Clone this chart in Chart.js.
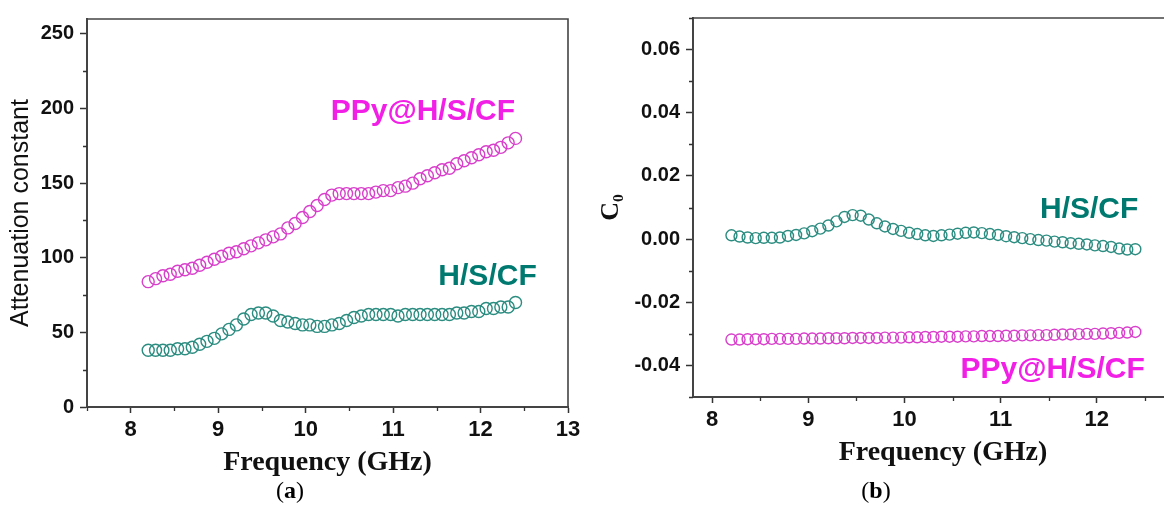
<!DOCTYPE html>
<html><head><meta charset="utf-8">
<script src="https://cdn.jsdelivr.net/npm/chart.js@4.4.1/dist/chart.umd.min.js"></script>
<style>
html,body{margin:0;padding:0;background:#fff;width:1164px;height:513px;overflow:hidden;}
#wrap{position:relative;width:1164px;height:513px;overflow:hidden;background:#fff;}
canvas{position:absolute;top:0;}
#ca{left:0;}
#cb{left:580px;}
.cap{position:absolute;top:477px;line-height:26px;font-family:"Liberation Serif",serif;font-size:24px;color:#000;transform:translateX(-50%);white-space:nowrap;}
</style></head>
<body><div id="wrap">
<canvas id="ca" width="610" height="513"></canvas>
<canvas id="cb" width="640" height="513"></canvas>
<div class="cap" style="left:290px">(<b>a</b>)</div>
<div class="cap" style="left:876px">(<b>b</b>)</div>
</div>
<script>
// ---- data ----
const freqGHz = [8.2, 8.284, 8.368, 8.452, 8.536, 8.62, 8.704, 8.788, 8.872, 8.956,
  9.04, 9.124, 9.208, 9.292, 9.376, 9.46, 9.544, 9.628, 9.712, 9.796,
  9.88, 9.964, 10.048, 10.132, 10.216, 10.3, 10.384, 10.468, 10.552, 10.636,
  10.72, 10.804, 10.888, 10.972, 11.056, 11.14, 11.224, 11.308, 11.392, 11.476,
  11.56, 11.644, 11.728, 11.812, 11.896, 11.98, 12.064, 12.148, 12.232, 12.316, 12.4];

const attenPPy = [84,86,88,89,91,92,93,95,97,99,
  101,103,104,106,108,110,112,114,116,120,
  123,127,131,135,139,142,143,143,143,143,
  143,144,145,145,147,148,150,153,155,157,
  159,160,163,165,167,169,171,172,174,177,180];

const attenHSCF = [38,38,38,38,39,39,40,42,44,46,
  49,52,55,59,62,63,63,61,58,57,
  56,55,55,54,54,55,56,58,60,61,
  62,62,62,62,61,62,62,62,62,62,
  62,62,63,63,64,64,66,66,67,67,70];

const c0HSCF = [0.0012,0.0008,0.0005,0.0003,0.0004,0.0004,0.0005,0.0010,0.0013,0.0018,
  0.0025,0.0033,0.0043,0.0056,0.0070,0.0076,0.0074,0.0062,0.0050,0.0040,
  0.0032,0.0026,0.0020,0.0016,0.0012,0.0010,0.0012,0.0014,0.0017,0.0020,
  0.0021,0.0019,0.0016,0.0013,0.0009,0.0006,0.0003,0.0000,-0.0003,-0.0005,
  -0.0008,-0.0010,-0.0013,-0.0015,-0.0017,-0.0020,-0.0022,-0.0025,-0.0030,-0.0033,-0.0032];

const c0PPy = [-0.0318,-0.0318,-0.0317,-0.0317,-0.0317,-0.0316,-0.0316,-0.0316,-0.0316,-0.0315,
  -0.0315,-0.0315,-0.0314,-0.0314,-0.0314,-0.0313,-0.0313,-0.0313,-0.0313,-0.0312,
  -0.0312,-0.0312,-0.0311,-0.0311,-0.0310,-0.0310,-0.0309,-0.0309,-0.0309,-0.0308,
  -0.0308,-0.0307,-0.0307,-0.0307,-0.0306,-0.0306,-0.0305,-0.0305,-0.0304,-0.0304,
  -0.0303,-0.0302,-0.0302,-0.0301,-0.0300,-0.0300,-0.0299,-0.0298,-0.0297,-0.0296,-0.0294];

const xTicksA = [8, 9, 10, 11, 12, 13];
const xMinorA = [7.5, 8.5, 9.5, 10.5, 11.5, 12.5];
const yTicksA = [0, 50, 100, 150, 200, 250];
const yMinorA = [25, 75, 125, 175, 225];

const xTicksB = [8, 9, 10, 11, 12, 13];
const xMinorB = [8.5, 9.5, 10.5, 11.5, 12.5];
const yTicksB = [-0.04, -0.02, 0.00, 0.02, 0.04, 0.06];
const yMinorB = [-0.05, -0.03, -0.01, 0.01, 0.03, 0.05, 0.07];

const seriesNames = ['PPy@H/S/CF', 'H/S/CF'];

// ---- styles ----
const PINK = '#d83fcb', PINK_TXT = '#f21fe6';
const TEAL = '#2b8c80', TEAL_TXT = '#007a70';
const AXIS = '#444';

const pts = (xs, ys) => xs.map((x, i) => ({x, y: ys[i]}));

const framePlugin = {
  id: 'frame',
  beforeDatasetsDraw(chart, args, o) {
    const {ctx, chartArea: a} = chart;
    ctx.save();
    ctx.strokeStyle = AXIS; ctx.lineWidth = 1.6;
    ctx.beginPath();
    ctx.moveTo(a.left, a.top); ctx.lineTo(a.right, a.top); ctx.lineTo(a.right, a.bottom);
    ctx.stroke();
    // minor ticks
    ctx.lineWidth = 1.3; ctx.strokeStyle = '#333';
    const xs = chart.scales.x, ys = chart.scales.y;
    ctx.beginPath();
    (o.minorX || []).forEach(v => { const p = Math.round(xs.getPixelForValue(v)) + 0.5; ctx.moveTo(p, a.bottom); ctx.lineTo(p, a.bottom + 4); });
    (o.minorY || []).forEach(v => { const p = Math.round(ys.getPixelForValue(v)) + 0.5; ctx.moveTo(a.left, p); ctx.lineTo(a.left - 4, p); });
    ctx.stroke();
    ctx.restore();
  },
  afterDatasetsDraw(chart, args, o) {
    const {ctx} = chart;
    const xs = chart.scales.x, ys = chart.scales.y;
    ctx.save();
    ctx.font = 'bold 30px "Liberation Sans", Arial, sans-serif';
    ctx.textAlign = 'center'; ctx.textBaseline = 'middle';
    (o.labels || []).forEach(l => {
      ctx.fillStyle = l.color;
      ctx.fillText(l.text, xs.getPixelForValue(l.x), ys.getPixelForValue(l.y));
    });
    ctx.restore();
  }
};

function makeChart(id, cfg) {
  return new Chart(document.getElementById(id), {
    type: 'scatter',
    data: {
      datasets: [
        {label: seriesNames[0], data: cfg.ppy, borderColor: PINK, backgroundColor: 'rgba(0,0,0,0)', pointRadius: cfg.r, pointBorderWidth: 1.4, showLine: false},
        {label: seriesNames[1], data: cfg.hscf, borderColor: TEAL, backgroundColor: 'rgba(0,0,0,0)', pointRadius: cfg.r, pointBorderWidth: 1.4, showLine: false}
      ]
    },
    options: {
      responsive: false, animation: false, devicePixelRatio: 1,
      layout: {padding: cfg.pad},
      plugins: {legend: {display: false}, tooltip: {enabled: false},
        frame: {minorX: cfg.minorX, minorY: cfg.minorY, labels: cfg.labels}},
      scales: {
        x: {
          type: 'linear', min: cfg.xmin, max: cfg.xmax,
          afterBuildTicks: s => { s.ticks = cfg.xTicks.map(v => ({value: v})); },
          afterFit: s => { s.height = cfg.xH; },
          grid: {display: true, drawOnChartArea: false, drawTicks: true, tickLength: 6, tickColor: '#333', tickWidth: 1.5},
          border: {display: true, color: AXIS, width: 2},
          ticks: {padding: 4, color: '#111', font: {family: '"Liberation Sans", Arial, sans-serif', size: 22, weight: 'bold'}, maxRotation: 0},
          title: {display: true, text: 'Frequency (GHz)', color: '#111',
            font: {family: '"Liberation Serif", "Times New Roman", serif', size: 28, weight: 'bold'},
            padding: {top: 0, bottom: cfg.xTitlePad}}
        },
        y: {
          type: 'linear', min: cfg.ymin, max: cfg.ymax,
          afterBuildTicks: s => { s.ticks = cfg.yTicks.map(v => ({value: v})); },
          afterFit: s => { s.width = cfg.yW; },
          grid: {display: true, drawOnChartArea: false, drawTicks: true, tickLength: 7, tickColor: '#333', tickWidth: 1.5},
          border: {display: true, color: AXIS, width: 2},
          ticks: {padding: 6, color: '#111', callback: cfg.fmt, font: {family: '"Liberation Sans", Arial, sans-serif', size: 20, weight: 'bold'}},
          title: {display: true, text: cfg.yTitle, color: '#111', font: cfg.yTitleFont, padding: {top: cfg.yTitlePad, bottom: 0}}
        }
      }
    },
    plugins: [framePlugin]
  });
}

makeChart('ca', {
  ppy: pts(freqGHz, attenPPy), hscf: pts(freqGHz, attenHSCF), r: 6,
  pad: {left: 0, top: 19, right: 42, bottom: 0},
  xmin: 7.5, xmax: 13, ymin: 0, ymax: 260,
  xTicks: xTicksA, yTicks: yTicksA, minorX: xMinorA, minorY: yMinorA,
  xH: 106, yW: 87, xTitlePad: 33,
  fmt: v => String(v),
  yTitle: 'Attenuation constant',
  yTitleFont: {family: '"Liberation Sans", Arial, sans-serif', size: 25, weight: 'normal'},
  yTitlePad: 6,
  labels: [
    {text: seriesNames[0], x: 11.34, y: 198, color: PINK_TXT},
    {text: seriesNames[1], x: 12.08, y: 87, color: TEAL_TXT}
  ]
});

makeChart('cb', {
  ppy: pts(freqGHz, c0PPy), hscf: pts(freqGHz, c0HSCF), r: 5.5,
  pad: {left: 0, top: 13, right: 27, bottom: 0},
  xmin: 7.8, xmax: 13, ymin: -0.05, ymax: 0.07,
  xTicks: xTicksB, yTicks: yTicksB, minorX: xMinorB, minorY: yMinorB,
  xH: 116, yW: 113, xTitlePad: 43,
  fmt: v => v.toFixed(2),
  yTitle: 'C\u2080',
  yTitleFont: {family: '"Liberation Serif", "DejaVu Serif", serif', size: 26, weight: 'bold'},
  yTitlePad: 16,
  labels: [
    {text: seriesNames[1], x: 11.92, y: 0.0094, color: TEAL_TXT},
    {text: seriesNames[0], x: 11.54, y: -0.0415, color: PINK_TXT}
  ]
});
</script>
</body></html>
